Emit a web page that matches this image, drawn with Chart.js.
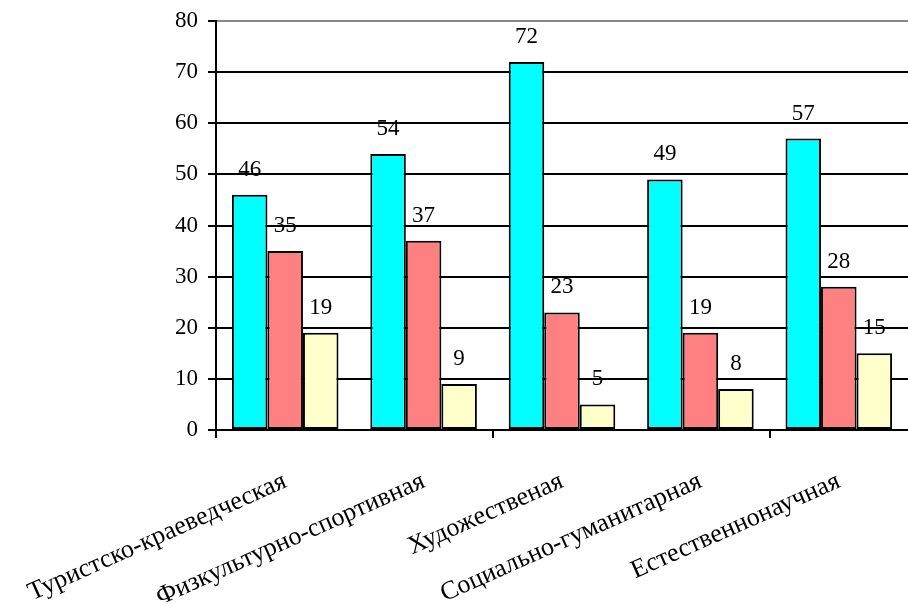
<!DOCTYPE html>
<html>
<head>
<meta charset="utf-8">
<script src="https://cdn.jsdelivr.net/npm/chart.js@4.4.0/dist/chart.umd.min.js"></script>
<style>
  html, body { margin: 0; padding: 0; background: #fff; }
  #wrap { width: 908px; height: 605px; }
</style>
</head>
<body>
<div id="wrap"><canvas id="grafico"></canvas></div>
<script>
// Категории и значения
const categorias = ['Туристско-краеведческая', 'Физкультурно-спортивная', 'Художественая', 'Социально-гуманитарная', 'Естественнонаучная'];
const serie1 = [46, 54, 72, 49, 57];
const serie2 = [35, 37, 23, 19, 28];
const serie3 = [19, 9, 5, 8, 15];
const ticksY = [0, 10, 20, 30, 40, 50, 60, 70, 80];

const fonte = "'Liberation Serif', 'Times New Roman', serif";

// Подписи над столбцами
const rotulos = {
    id: 'rotulos',
    afterDatasetsDraw(chart) {
        const ctx = chart.ctx;
        ctx.save();
        ctx.font = '23px ' + fonte;
        ctx.fillStyle = '#000';
        ctx.textAlign = 'center';
        ctx.textBaseline = 'alphabetic';
        chart.data.datasets.forEach((ds, i) => {
            chart.getDatasetMeta(i).data.forEach((bar, j) => {
                ctx.fillText(ds.data[j], bar.x, bar.y - 19);
            });
        });
        ctx.restore();
    }
};

const grafico = new Chart(
    document.getElementById('grafico'),
    {
        type: 'bar',
        data: {
            labels: categorias,
            datasets: [
                { data: serie1, backgroundColor: '#00FFFF', borderColor: '#000', borderWidth: 2, borderSkipped: false },
                { data: serie2, backgroundColor: '#FF8080', borderColor: '#000', borderWidth: 2, borderSkipped: false },
                { data: serie3, backgroundColor: '#FFFFCC', borderColor: '#000', borderWidth: 2, borderSkipped: false }
            ]
        },
        options: {
            responsive: true,
            maintainAspectRatio: false,
            animation: false,
            layout: { padding: { top: 21, right: 0, left: 0, bottom: 0 } },
            plugins: { legend: { display: false }, tooltip: { enabled: false } },
            datasets: { bar: { categoryPercentage: 0.77, barPercentage: 1 } },
            scales: {
                x: {
                    offset: true,
                    grid: {
                        offset: true,
                        drawOnChartArea: false,
                        tickLength: 8,
                        lineWidth: 2,
                        tickColor: c => (c.index % 2 === 0 ? '#000' : 'rgba(0,0,0,0)')
                    },
                    border: { color: '#000', width: 2 },
                    ticks: {
                        color: '#000',
                        font: { family: fonte, size: 26 },
                        minRotation: 24,
                        maxRotation: 24,
                        padding: 28,
                        autoSkip: false
                    },
                    afterFit: s => {
                        s.height = 175;
                        s.paddingLeft = 0;
                        s.paddingRight = 0;
                    }
                },
                y: {
                    min: 0,
                    max: 80,
                    afterBuildTicks: s => { s.ticks = ticksY.map(v => ({ value: v })); },
                    grid: {
                        color: c => (c.tick && c.tick.value === 80 ? '#888' : '#000'),
                        tickColor: '#000',
                        lineWidth: 2,
                        tickLength: 8
                    },
                    border: { color: '#000', width: 2 },
                    ticks: {
                        color: '#000',
                        font: { family: fonte, size: 23 },
                        padding: 10
                    },
                    afterFit: s => {
                        s.width = 216;
                        s.paddingTop = 0;
                        s.paddingBottom = 0;
                    }
                }
            }
        },
        plugins: [rotulos]
    }
);
</script>
</body>
</html>
